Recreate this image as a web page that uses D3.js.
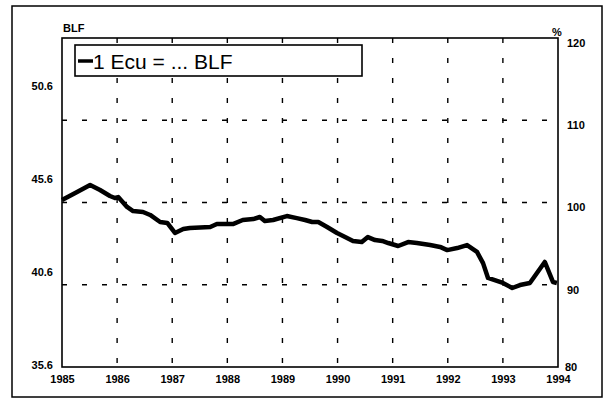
<!DOCTYPE html>
<html>
<head>
<meta charset="utf-8">
<script src="https://cdn.jsdelivr.net/npm/d3@7"></script>
<style>
  body { margin: 0; background: #fff; }
  svg { display: block; }
  .tick text { font-family: "Liberation Sans", Arial, sans-serif; font-weight: bold; font-size: 11px; fill: #000; }
</style>
</head>
<body>
<div id="chart-container"></div>
<script>
// time points (decimal years) and exchange rate, 1 Ecu = ... BLF
var dates = [1985.00, 1985.24, 1985.51, 1985.69, 1985.87, 1985.96, 1986.02, 1986.18, 1986.29, 1986.47,
             1986.60, 1986.78, 1986.91, 1987.05, 1987.20, 1987.32, 1987.69, 1987.81, 1988.10, 1988.28,
             1988.47, 1988.59, 1988.68, 1988.83, 1989.08, 1989.26, 1989.41, 1989.54, 1989.65, 1989.81,
             1989.99, 1990.10, 1990.28, 1990.44, 1990.55, 1990.68, 1990.81, 1990.92, 1991.10, 1991.28,
             1991.44, 1991.68, 1991.86, 1991.99, 1992.17, 1992.35, 1992.53, 1992.64, 1992.73, 1993.00,
             1993.17, 1993.31, 1993.49, 1993.76, 1993.91, 1993.98];
var blf = [44.58, 44.96, 45.39, 45.12, 44.80, 44.69, 44.74, 44.21, 43.99, 43.94,
           43.78, 43.40, 43.35, 42.81, 43.02, 43.08, 43.13, 43.29, 43.29, 43.51,
           43.56, 43.67, 43.45, 43.51, 43.72, 43.61, 43.51, 43.40, 43.40, 43.13,
           42.81, 42.65, 42.38, 42.32, 42.59, 42.43, 42.38, 42.27, 42.11, 42.32,
           42.27, 42.16, 42.06, 41.89, 42.00, 42.16, 41.79, 41.19, 40.39, 40.12,
           39.85, 40.01, 40.12, 41.25, 40.17, 40.12];

var years = [1985, 1986, 1987, 1988, 1989, 1990, 1991, 1992, 1993, 1994];
var leftTicks = [35.6, 40.6, 45.6, 50.6];
var rightTicks = [80, 90, 100, 110, 120];
var gridPct = [90, 100, 110];
var gridYears = [1986, 1987, 1988, 1989, 1990, 1991, 1992, 1993];

var W = 604, H = 404;
var plotL = 62, plotR = 558, plotT = 38, plotB = 367;

var svg = d3.select("#chart-container").append("svg")
    .attr("width", W)
    .attr("height", H);

// outer frame
svg.append("rect")
    .attr("x", 12).attr("y", 6)
    .attr("width", 590).attr("height", 391)
    .attr("fill", "none").attr("stroke", "#000").attr("stroke-width", 1.5);

var x = d3.scaleLinear().domain([1985, 1994]).range([plotL, plotR]);
var yL = d3.scaleLinear().domain([35.6, 53.3]).range([plotB, plotT]);
var yR = d3.scaleLinear().domain([80, 120]).range([plotB, plotT]);

// dashed grid
svg.append("g").selectAll("line")
    .data(gridPct)
    .enter().append("line")
    .attr("x1", plotL).attr("x2", plotR)
    .attr("y1", function(d) { return yR(d); })
    .attr("y2", function(d) { return yR(d); })
    .attr("stroke", "#000").attr("stroke-width", 1.6)
    .attr("stroke-dasharray", "5,15");

svg.append("g").selectAll("line")
    .data(gridYears)
    .enter().append("line")
    .attr("x1", function(d) { return x(d); })
    .attr("x2", function(d) { return x(d); })
    .attr("y1", plotT).attr("y2", plotB)
    .attr("stroke", "#000").attr("stroke-width", 1.4)
    .attr("stroke-dasharray", "5,15");

// plot box
svg.append("rect")
    .attr("x", plotL).attr("y", plotT)
    .attr("width", plotR - plotL).attr("height", plotB - plotT)
    .attr("fill", "none").attr("stroke", "#000").attr("stroke-width", 1.6);

// axes
var xAxis = svg.append("g")
    .attr("transform", "translate(0," + plotB + ")")
    .call(d3.axisBottom(x).tickValues(years).tickFormat(d3.format("d")).tickSize(0).tickPadding(8));
xAxis.select(".domain").remove();

var lAxis = svg.append("g")
    .attr("transform", "translate(" + plotL + ",0)")
    .call(d3.axisLeft(yL).tickValues(leftTicks).tickFormat(d3.format(".1f")).tickSize(0).tickPadding(9));
lAxis.select(".domain").remove();
lAxis.selectAll("text").attr("dy", "0.15em");

var rAxis = svg.append("g")
    .attr("transform", "translate(" + plotR + ",0)")
    .call(d3.axisRight(yR).tickValues(rightTicks).tickSize(0).tickPadding(9));
rAxis.select(".domain").remove();
rAxis.selectAll("text").attr("dy", "0.75em");
// bottom right label sits a bit higher, next to the last year
rAxis.selectAll(".tick").filter(function(d) { return d === 80; })
    .select("text").attr("dy", "0.3em").attr("x", 7);

// axis titles
svg.append("text")
    .attr("x", 63).attr("y", 32)
    .attr("font-family", "Liberation Sans, Arial, sans-serif")
    .attr("font-weight", "bold").attr("font-size", 11)
    .text("BLF");
svg.append("text")
    .attr("x", 552).attr("y", 36)
    .attr("font-family", "Liberation Sans, Arial, sans-serif")
    .attr("font-weight", "bold").attr("font-size", 11)
    .text("%");

// legend
svg.append("rect")
    .attr("x", 75).attr("y", 45)
    .attr("width", 287).attr("height", 31)
    .attr("fill", "#fff").attr("stroke", "#000").attr("stroke-width", 1.6);
svg.append("line")
    .attr("x1", 78).attr("x2", 93)
    .attr("y1", 61).attr("y2", 61)
    .attr("stroke", "#000").attr("stroke-width", 3.5);
svg.append("text")
    .attr("x", 93).attr("y", 69)
    .attr("font-family", "Liberation Sans, Arial, sans-serif")
    .attr("font-size", 21)
    .text("1 Ecu = ... BLF");

// series
var pts = dates.map(function(d, i) { return [d, blf[i]]; });
var line = d3.line()
    .x(function(d) { return x(d[0]); })
    .y(function(d) { return yL(d[1]); });

svg.append("path")
    .datum(pts)
    .attr("d", line)
    .attr("fill", "none")
    .attr("stroke", "#000")
    .attr("stroke-width", 4.5)
    .attr("stroke-linejoin", "round");
</script>
</body>
</html>
